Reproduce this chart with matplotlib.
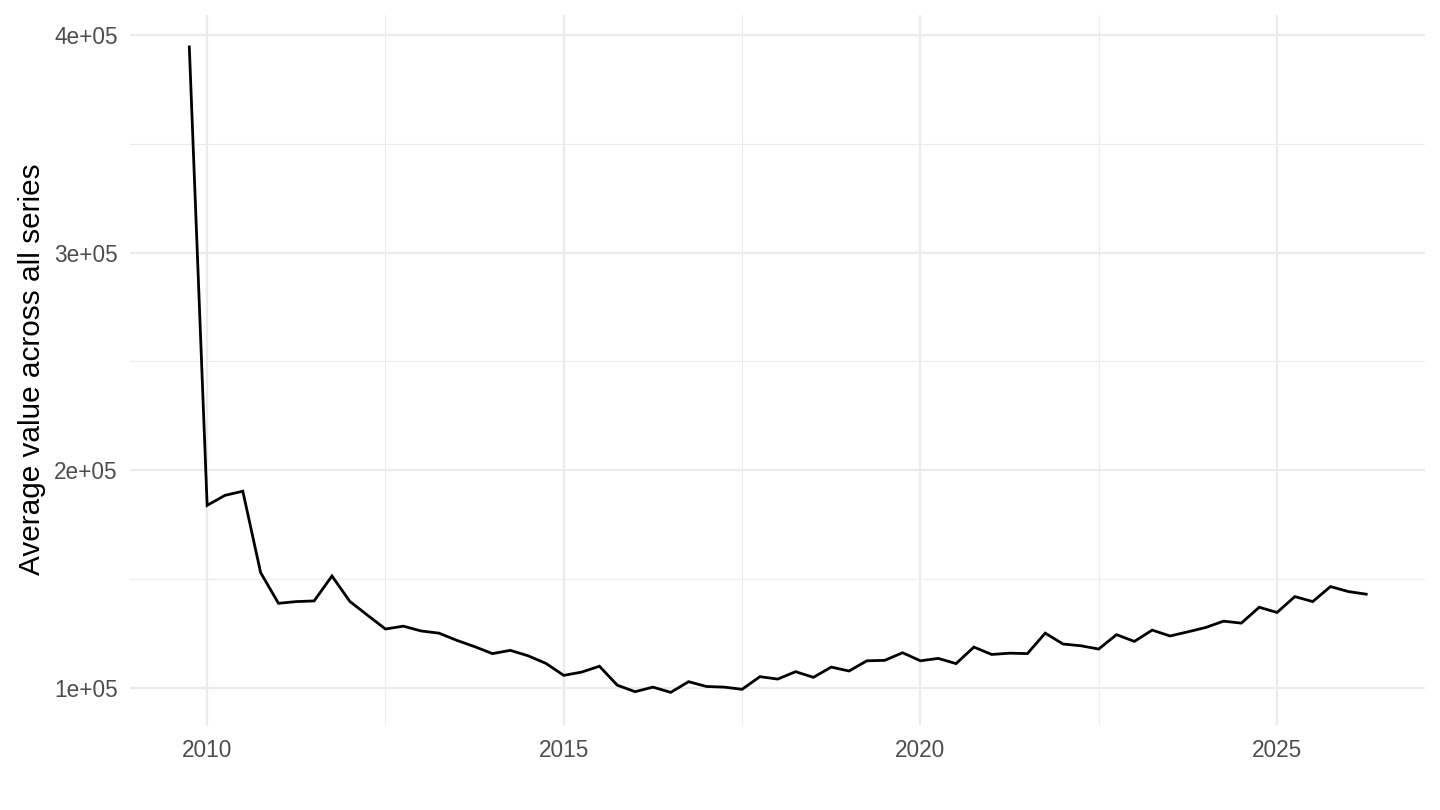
import matplotlib
matplotlib.use("Agg")
import matplotlib.pyplot as plt
from matplotlib.ticker import FixedLocator

plt.rcParams['font.family'] = ['Liberation Sans', 'DejaVu Sans']

# quarterly dates (decimal years) and average values
start = 2009.75
values = [
    394500,
    183900, 188500, 190400, 153000,
    138900, 139700, 140000, 151450,
    139800, 133400, 127100, 128400,
    126200, 125200, 121900, 119000,
    115800, 117300, 114800, 111300,
    105800, 107300, 110000, 101300,
    98300, 100400, 98000, 102900,
    100700, 100400, 99400, 105200,
    104100, 107500, 104900, 109600,
    107800, 112500, 112700, 116200,
    112500, 113600, 111200, 118800,
    115400, 116000, 115800, 125200,
    120200, 119400, 117900, 124500,
    121400, 126600, 123900, 125800,
    127800, 130700, 129800, 137100,
    134700, 142000, 139700, 146600,
    144300, 143100,
]
dates = [start + 0.25 * i for i in range(len(values))]

x_ticks = [2010, 2015, 2020, 2025]
y_ticks = [100000, 200000, 300000, 400000]
y_labels = ["1e+05", "2e+05", "3e+05", "4e+05"]

fig = plt.figure(figsize=(14.4, 8.1), dpi=100)
ax = fig.add_axes([0.0906, 0.1054, 0.899, 0.8765])

ax.plot(dates, values, color="black", linewidth=2.0, solid_joinstyle="miter")

# ggplot-style expansion of 5%
xr = max(dates) - min(dates)
yr = max(values) - min(values)
ax.set_xlim(min(dates) - 0.05 * xr, max(dates) + 0.05 * xr)
ax.set_ylim(min(values) - 0.05 * yr, max(values) + 0.05 * yr)

ax.set_xticks(x_ticks)
ax.set_xticklabels([str(t) for t in x_ticks])
ax.set_yticks(y_ticks)
ax.set_yticklabels(y_labels)
ax.xaxis.set_minor_locator(FixedLocator([2007.5, 2012.5, 2017.5, 2022.5, 2027.5]))
ax.yaxis.set_minor_locator(FixedLocator([50000, 150000, 250000, 350000]))

ax.grid(which="major", color="#EBEBEB", linewidth=1.6)
ax.grid(which="minor", color="#EBEBEB", linewidth=0.8)
ax.set_axisbelow(True)
for s in ax.spines.values():
    s.set_visible(False)
ax.tick_params(which="both", length=0)
ax.tick_params(axis="both", labelsize=16.3, labelcolor="#4D4D4D")
ax.tick_params(axis="x", pad=10)
ax.tick_params(axis="y", pad=9)

ax.set_ylabel("Average value across all series", fontsize=21.4, color="black", labelpad=6)

fig.savefig("out.png", dpi=100)
